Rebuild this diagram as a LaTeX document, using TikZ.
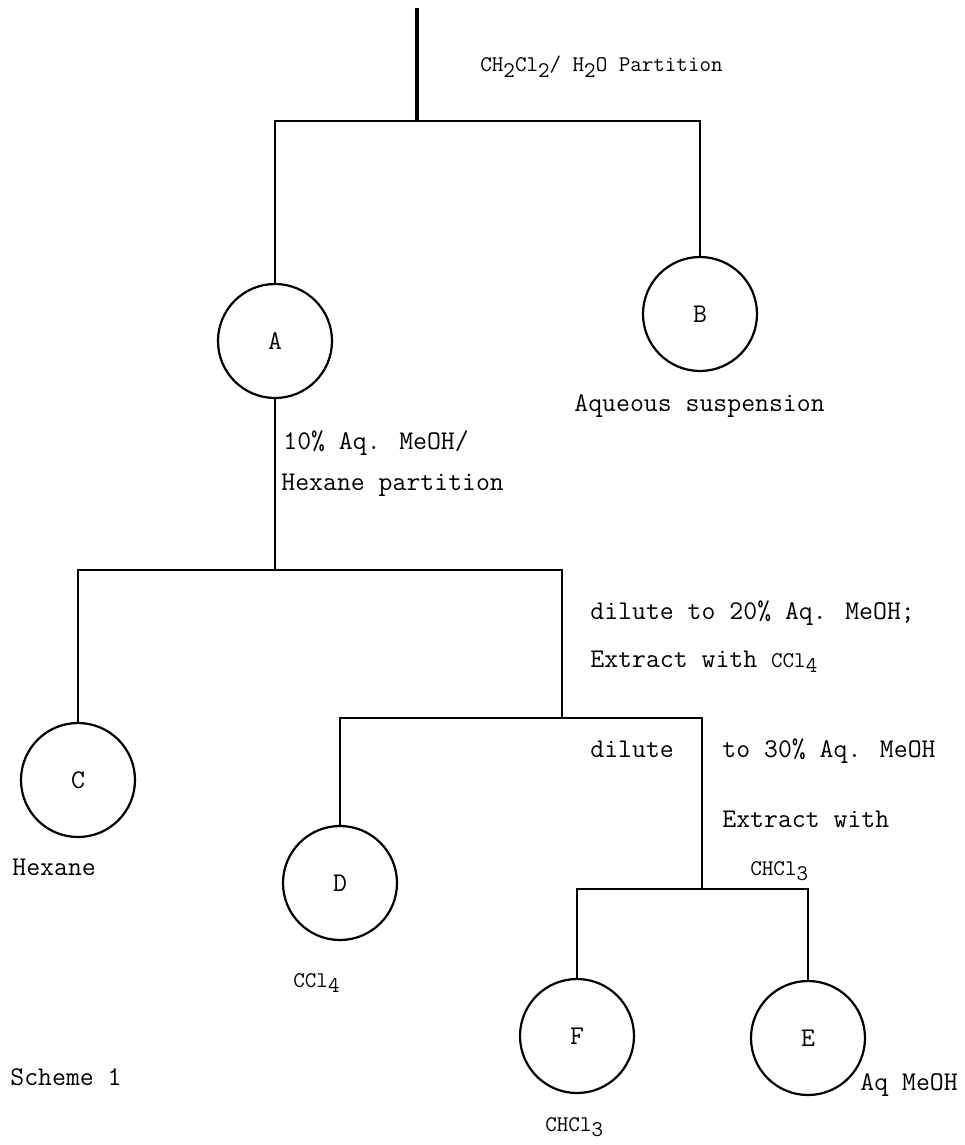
\documentclass[tikz,border=0pt]{standalone}
\usepackage{fontspec}
\newcommand{\lowr}[1]{\raisebox{-0.55ex}{#1}}
\begin{document}
\begin{tikzpicture}[x=0.5pt,y=-0.5pt,
  flask/.style={circle,draw,line width=1.1pt,minimum size=57pt,inner sep=0pt,font=\ttfamily\fontsize{13.5}{16}\selectfont},
  wire/.style={line width=1.25pt},
  lbl/.style={anchor=base west,inner sep=0pt,font=\ttfamily\fontsize{13.5}{16}\selectfont},
  slbl/.style={anchor=base west,inner sep=0pt,font=\ttfamily\fontsize{11.2}{13}\selectfont}]
\useasboundingbox (0,0) rectangle (964,1145);
% flasks
\node[flask] (A) at (275,341) {A};
\node[flask] (B) at (700,314) {B};
\node[flask] (C) at (78,780) {C};
\node[flask] (D) at (340,883) {D};
\node[flask] (F) at (577,1036) {F};
\node[flask] (E) at (808,1038) {E};
% junctions
\coordinate (top) at (417,8);
\coordinate (t1) at (417,121);
\coordinate (b1l) at (275,121);
\coordinate (b1r) at (700,121);
\coordinate (a1) at (275,570);
\coordinate (b2l) at (78,570);
\coordinate (b2r) at (562,570);
\coordinate (b3r) at (562,718);
\coordinate (b3l) at (340,718);
\coordinate (b3x) at (702,718);
\coordinate (b4) at (702,889);
\coordinate (b4l) at (577,889);
\coordinate (b4r) at (808,889);
% connectors
\draw[line width=1.6pt] (top) -- (t1);
\draw[wire] (A.north) -- (b1l) -- (b1r) -- (B.north);
\draw[line width=0.8pt] (A.south) -- (a1);
\draw[wire] (C.north) -- (b2l) -- (b2r) -- (b3r);
\draw[wire] (D.north) -- (b3l) -- (b3x) -- (b4);
\draw[wire] (F.north) -- (b4l) -- (b4r) -- (E.north);
% labels
\node[slbl] (l1) at (480,72) {CH\lowr{2}Cl\lowr{2}/ H\lowr{2}O Partition};
\node[lbl] (l2) at (574,411) {Aqueous suspension};
\node[lbl] (l3) at (283,449) {10\% Aq. MeOH/};
\node[lbl] (l4) at (281,490) {Hexane partition};
\node[lbl] (l5) at (590,619) {dilute to 20\% Aq. MeOH;};
\node[lbl] (l6) at (590,667) {Extract with \fontsize{11.2}{13}\selectfont CCl\lowr{4}};
\node[lbl] (l7) at (590,757) {dilute};
\node[lbl] (l8) at (722,757) {to 30\% Aq. MeOH};
\node[lbl] (l9) at (722,827) {Extract with};
\node[slbl] (l10) at (750,875) {CHCl\lowr{3}};
\node[lbl] (l11) at (12,875) {Hexane};
\node[slbl] (l12) at (293,987) {CCl\lowr{4}};
\node[lbl] (l13) at (10,1085) {Scheme 1};
\node[slbl] (l14) at (545,1131) {CHCl\lowr{3}};
\node[lbl] (l15) at (860,1090) {Aq MeOH};
\end{tikzpicture}
\end{document}
